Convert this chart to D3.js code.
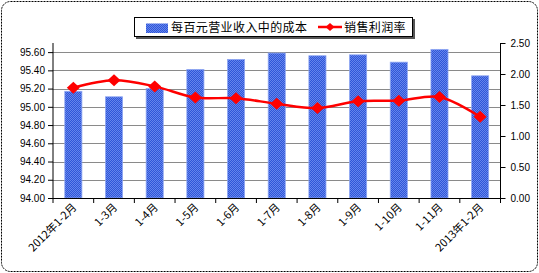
<!DOCTYPE html>
<html lang="zh">
<head>
<meta charset="UTF-8">
<title>成本与销售利润率</title>
<script src="https://d3js.org/d3.v7.min.js"></script>
<style>
    body { margin: 0; background: #fff; }
    svg { display: block; }
    .tick-label { font-family: "Liberation Sans", Arial, sans-serif; font-size: 10px; fill: #000; }
    .cat-label { font-family: "Noto Sans CJK SC", sans-serif; font-size: 11px; fill: #000; }
    .legend-text { font-family: "Noto Sans CJK SC", sans-serif; font-size: 12px; letter-spacing: 0.4px; fill: #000; }
</style>
</head>
<body>
<div id="chart"></div>
<script>
    const categories = ["2012年1-2月", "1-3月", "1-4月", "1-5月", "1-6月", "1-7月",
                        "1-8月", "1-9月", "1-10月", "1-11月", "2013年1-2月"];
    const costPer100 = [95.17, 95.11, 95.20, 95.41, 95.52, 95.59, 95.56, 95.57, 95.49, 95.63, 95.34];
    const profitRate = [1.78, 1.90, 1.80, 1.62, 1.61, 1.52, 1.45, 1.56, 1.57, 1.63, 1.31];
    const leftTicks = [94.0, 94.2, 94.4, 94.6, 94.8, 95.0, 95.2, 95.4, 95.6];
    const rightTicks = [0, 0.5, 1.0, 1.5, 2.0, 2.5];
    const seriesNames = ["每百元营业收入中的成本", "销售利润率"];

    const W = 539, H = 273;
    const plot = {left: 53, right: 500.5, top: 43, bottom: 198};

    const svg = d3.select("#chart").append("svg")
        .attr("width", W)
        .attr("height", H);

    // bar fill texture
    const defs = svg.append("defs");
    const pat = defs.append("pattern")
        .attr("id", "barTex")
        .attr("width", 2).attr("height", 2)
        .attr("patternUnits", "userSpaceOnUse");
    pat.append("rect").attr("width", 2).attr("height", 2).attr("fill", "#2f56d8");
    pat.append("rect").attr("width", 1).attr("height", 1).attr("fill", "#6585ec");
    pat.append("rect").attr("x", 1).attr("y", 1).attr("width", 1).attr("height", 1).attr("fill", "#6585ec");

    // chart area border
    svg.append("rect")
        .attr("x", 1.5).attr("y", 1.5)
        .attr("width", W - 3).attr("height", H - 3)
        .attr("rx", 9).attr("ry", 9)
        .attr("fill", "#fff")
        .attr("stroke", "#000")
        .attr("stroke-width", 1)
        .attr("stroke-dasharray", "2,1");

    const x = d3.scaleBand()
        .domain(categories)
        .range([plot.left, plot.right])
        .paddingInner(0.58)
        .paddingOuter(0.29);

    const yL = d3.scaleLinear().domain([94, 95.7]).range([plot.bottom, plot.top]);
    const yR = d3.scaleLinear().domain([0, 2.5]).range([plot.bottom, plot.top]);

    // gridlines
    svg.append("g")
        .selectAll("line")
        .data(leftTicks.slice(1))
        .join("line")
        .attr("x1", plot.left).attr("x2", plot.right)
        .attr("y1", d => Math.round(yL(d)) + 0.5)
        .attr("y2", d => Math.round(yL(d)) + 0.5)
        .attr("stroke", "#8a8a8a")
        .attr("stroke-width", 1);

    // bars
    svg.append("g")
        .selectAll("rect")
        .data(costPer100)
        .join("rect")
        .attr("x", (d, i) => x(categories[i]))
        .attr("y", d => yL(d))
        .attr("width", x.bandwidth())
        .attr("height", d => plot.bottom - yL(d))
        .attr("fill", "url(#barTex)")
        .attr("stroke", "#8ea6f2")
        .attr("stroke-width", 0.8);

    // left axis
    const axL = svg.append("g")
        .attr("transform", `translate(${plot.left},0)`)
        .call(d3.axisLeft(yL).tickValues(leftTicks).tickSize(5).tickPadding(3)
            .tickFormat(d3.format(".2f")));
    axL.select(".domain").attr("d", `M0,${plot.top}V${plot.bottom}`).attr("stroke", "#000");
    axL.selectAll("text").attr("class", "tick-label").attr("font-family", null).attr("font-size", null);

    // right axis
    const axR = svg.append("g")
        .attr("transform", `translate(${plot.right},0)`)
        .call(d3.axisRight(yR).tickValues(rightTicks).tickSize(5).tickPadding(5)
            .tickFormat(d3.format(".2f")));
    axR.select(".domain").attr("d", `M0,${plot.top}V${plot.bottom}`).attr("stroke", "#000");
    axR.selectAll("text").attr("class", "tick-label").attr("font-family", null).attr("font-size", null);

    // bottom axis with ticks on band boundaries
    const step = x.step();
    const bounds = d3.range(categories.length + 1).map(i => plot.left + i * step);
    const axB = svg.append("g");
    axB.append("line")
        .attr("x1", plot.left).attr("x2", plot.right)
        .attr("y1", plot.bottom + 0.5).attr("y2", plot.bottom + 0.5)
        .attr("stroke", "#000");
    axB.selectAll("line.tk")
        .data(bounds)
        .join("line")
        .attr("class", "tk")
        .attr("x1", d => d).attr("x2", d => d)
        .attr("y1", plot.bottom).attr("y2", plot.bottom + 5)
        .attr("stroke", "#000");
    axB.selectAll("text")
        .data(categories)
        .join("text")
        .attr("class", "cat-label")
        .attr("text-anchor", "end")
        .attr("transform", d => `translate(${x(d) + x.bandwidth() / 2 + 4},${plot.bottom + 10}) rotate(-45)`)
        .text(d => d);

    // profit rate line
    const line = d3.line()
        .x((d, i) => x(categories[i]) + x.bandwidth() / 2)
        .y(d => yR(d))
        .curve(d3.curveCatmullRom.alpha(0.5));

    svg.append("path")
        .datum(profitRate)
        .attr("d", line)
        .attr("fill", "none")
        .attr("stroke", "#ff0000")
        .attr("stroke-width", 2.5);

    const diamond = "M0,-6L6.5,0L0,6L-6.5,0Z";
    svg.append("g")
        .selectAll("path")
        .data(profitRate)
        .join("path")
        .attr("d", diamond)
        .attr("transform", (d, i) => `translate(${x(categories[i]) + x.bandwidth() / 2},${yR(d)})`)
        .attr("fill", "#ff0000");

    // legend
    const lg = svg.append("g").attr("transform", "translate(134,17)");
    lg.append("rect")
        .attr("x", 2).attr("y", 2).attr("width", 279).attr("height", 20)
        .attr("fill", "#555");
    lg.append("rect")
        .attr("x", 0.5).attr("y", 0.5).attr("width", 278).attr("height", 19)
        .attr("fill", "#fff").attr("stroke", "#000");
    lg.append("rect")
        .attr("x", 12).attr("y", 6.5).attr("width", 22).attr("height", 9.5)
        .attr("fill", "url(#barTex)");
    lg.append("text")
        .attr("class", "legend-text")
        .attr("x", 37).attr("y", 15)
        .text(seriesNames[0]);
    lg.append("line")
        .attr("x1", 184).attr("x2", 208)
        .attr("y1", 10).attr("y2", 10)
        .attr("stroke", "#ff0000").attr("stroke-width", 2.5);
    lg.append("path")
        .attr("d", "M0,-4L4.5,0L0,4L-4.5,0Z")
        .attr("transform", "translate(196,10)")
        .attr("fill", "#ff0000");
    lg.append("text")
        .attr("class", "legend-text")
        .attr("x", 210).attr("y", 15)
        .text(seriesNames[1]);
</script>
</body>
</html>
